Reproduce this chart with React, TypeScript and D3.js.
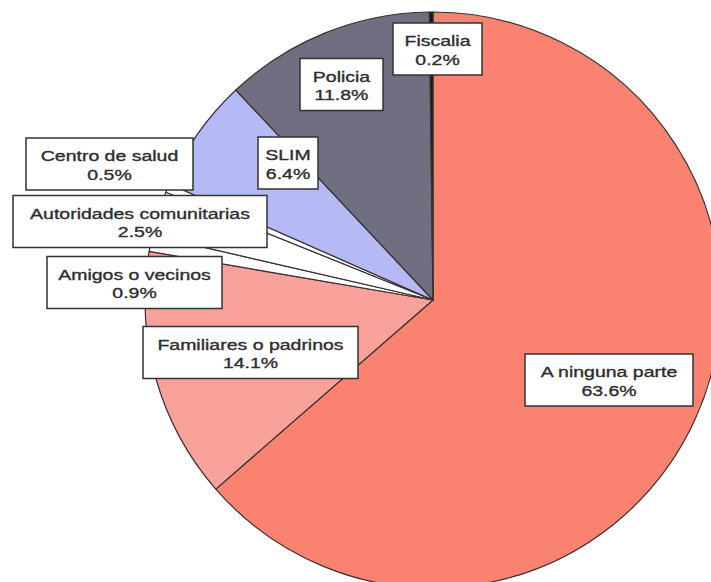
import React from "react";
import * as d3 from "d3";

const categories = [
  "A ninguna parte",
  "Familiares o padrinos",
  "Amigos o vecinos",
  "Autoridades comunitarias",
  "Centro de salud",
  "SLIM",
  "Policia",
  "Fiscalia",
];
const values = [63.6, 14.1, 0.9, 2.5, 0.5, 6.4, 11.8, 0.2];
const colors = ["#FA8270", "#F9A29C", "#FFFFFF", "#FFFFFF", "#FFFFFF", "#B5B9F5", "#6F6F81", "#1A1A1A"];
// label box centers and widths (layout)
const labelCenters: [number, number][] = [
  [609, 380],
  [250.5, 352.5],
  [134.5, 282.5],
  [140, 221.5],
  [109.5, 164],
  [288, 163],
  [341.5, 84.5],
  [437.5, 49],
];
const labelWidths = [168, 215, 175, 254, 167, 60, 83, 89];

const W = 711;
const H = 582;
const cx = 433;
const cy = 300;
const R = 288;

export default function App() {
  const pie = d3
    .pie<number>()
    .sort(null)
    .value((d) => d)
    .startAngle(0)
    .endAngle(2 * Math.PI);
  const arcs = pie(values);
  const arc = d3.arc<d3.PieArcDatum<number>>().innerRadius(0).outerRadius(R);
  const boxH = 52;
  const textStyle = {
    fontFamily: "Liberation Sans, Arial, sans-serif",
    fontSize: 15,
    fill: "#2e2e2e",
    stroke: "#2e2e2e",
    strokeWidth: 0.35,
  } as const;
  return (
    <svg
      width={W}
      height={H}
      style={{ position: "absolute", left: 0, top: 0, background: "#fff" }}
    >
      <g transform={`translate(${cx},${cy})`}>
        {arcs.map((a, i) => (
          <path
            key={i}
            d={arc(a) || ""}
            fill={colors[i]}
            stroke="#3a3030"
            strokeWidth={1.2}
            strokeLinejoin="round"
          />
        ))}
      </g>
      {categories.map((c, i) => {
        const [x, y] = labelCenters[i];
        const w = labelWidths[i];
        return (
          <g key={c}>
            <rect
              x={x - w / 2}
              y={y - boxH / 2}
              width={w}
              height={boxH}
              fill="#fff"
              stroke="#333"
              strokeWidth={1.5}
            />
            <g transform={`translate(${x},${y}) scale(1.3,1)`}>
              <text x={0} y={-3} textAnchor="middle" style={textStyle}>
                {c}
              </text>
              <text x={0} y={16} textAnchor="middle" style={textStyle}>
                {values[i].toFixed(1) + "%"}
              </text>
            </g>
          </g>
        );
      })}
    </svg>
  );
}
